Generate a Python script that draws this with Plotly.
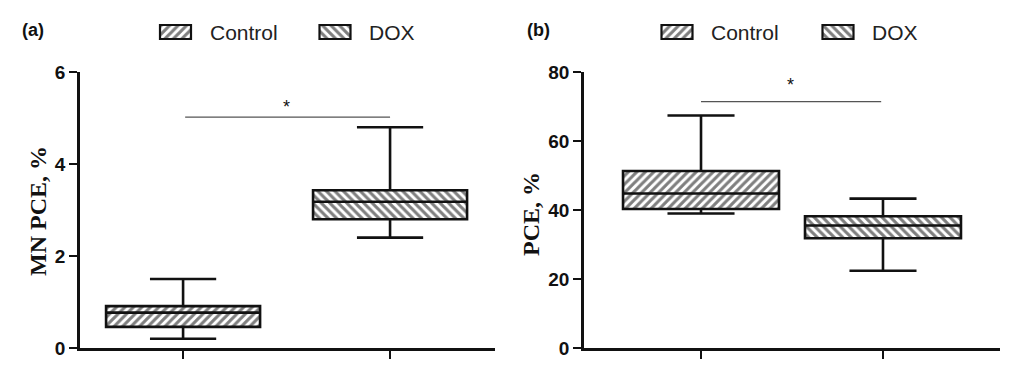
import plotly.graph_objects as go

# ---------------- data ----------------
groups = ["Control", "DOX"]
# Panel (a): MN PCE, %
a_lower = [0.2, 2.4]
a_q1 = [0.46, 2.8]
a_median = [0.77, 3.18]
a_q3 = [0.91, 3.43]
a_upper = [1.5, 4.8]
a_sig_y = 5.02
# Panel (b): PCE, %
b_lower = [39.0, 22.4]
b_q1 = [40.3, 31.8]
b_median = [44.8, 35.5]
b_q3 = [51.3, 38.2]
b_upper = [67.4, 43.3]
b_sig_y = 71.4

a_yticks = [0, 2, 4, 6]
b_yticks = [0, 20, 40, 60, 80]

# ---------------- styles ----------------
W, H = 1009, 378
BLACK = "#111111"
patterns = {"Control": "/", "DOX": "\\"}
PAT = dict(fgcolor="#000000", bgcolor="white", size=6, solidity=0.52)
TICKFONT = dict(family="Liberation Sans, Arial", size=19, color=BLACK, weight="bold")

fig = go.Figure()

panels = [
    dict(ax="", lower=a_lower, q1=a_q1, med=a_median, q3=a_q3, upper=a_upper,
         width=0.744, xrange=[-0.498, 1.507], yrange=[0, 6], ticks=a_yticks,
         xdom=[80 / W, 495 / W], sig=a_sig_y, sigx=[0.01, 1.0], star=(0.5, 5.24)),
    dict(ax="2", lower=b_lower, q1=b_q1, med=b_median, q3=b_q3, upper=b_upper,
         width=0.857, xrange=[-0.643, 1.643], yrange=[0, 80], ticks=b_yticks,
         xdom=[584 / W, 1000 / W], sig=b_sig_y, sigx=[0.0, 0.99], star=(0.49, 76.2)),
]

ydom = [(H - 348) / H, (H - 72) / H]

for p in panels:
    xa = "x" + p["ax"]
    ya = "y" + p["ax"]
    for i, g in enumerate(groups):
        # hatched fill of the box (from Q1 to Q3)
        fig.add_trace(go.Bar(
            x=[i], y=[p["q3"][i] - p["q1"][i]], base=[p["q1"][i]],
            width=p["width"], xaxis=xa, yaxis=ya, showlegend=False,
            marker=dict(color="white", line=dict(width=0),
                        pattern=dict(shape=patterns[g], **PAT)),
            hoverinfo="skip",
        ))
        # box outline, median, whiskers
        fig.add_trace(go.Box(
            x=[i], q1=[p["q1"][i]], median=[p["med"][i]], q3=[p["q3"][i]],
            lowerfence=[p["lower"][i]], upperfence=[p["upper"][i]],
            width=p["width"], whiskerwidth=0.43, xaxis=xa, yaxis=ya,
            fillcolor="rgba(0,0,0,0)", line=dict(color=BLACK, width=2.6),
            showlegend=False, name=g,
        ))
    # significance line and star
    fig.add_shape(type="line", xref=xa, yref=ya, x0=p["sigx"][0], x1=p["sigx"][1],
                  y0=p["sig"], y1=p["sig"], line=dict(color="#555555", width=1.3))
    fig.add_annotation(x=p["star"][0], y=p["star"][1], xref=xa, yref=ya, text="*",
                       showarrow=False, font=dict(family="Liberation Sans, Arial", size=18, color=BLACK))

    axis_common = dict(showline=True, linecolor=BLACK, linewidth=2.6, ticks="outside",
                       ticklen=8, tickwidth=2.2, tickcolor=BLACK, showgrid=False, zeroline=False,
                       automargin=False, fixedrange=True)
    fig.layout["xaxis" + p["ax"]] = dict(domain=p["xdom"], range=p["xrange"], tickvals=[0, 1],
                                         showticklabels=False, anchor=ya, **axis_common)
    fig.layout["yaxis" + p["ax"]] = dict(domain=ydom, range=p["yrange"], tickvals=p["ticks"],
                                         tickfont=TICKFONT, anchor=xa, **axis_common)

# ---------------- custom legends (hatched keys) ----------------
legend_keys = {"Control": [175.5, 677.0], "DOX": [335.0, 838.0]}
legend_text_x = {"Control": [208, 709], "DOX": [367, 870]}
for g in groups:
    fig.add_trace(go.Bar(
        x=legend_keys[g], y=[14, 14], base=[25, 25], width=31,
        xaxis="x3", yaxis="y3", showlegend=False, hoverinfo="skip",
        marker=dict(color="white", line=dict(color=BLACK, width=2.2),
                    pattern=dict(shape=patterns[g], **PAT)),
    ))
    for tx in legend_text_x[g]:
        fig.add_annotation(x=tx / W, y=1 - 32 / H, xref="paper", yref="paper", text=g,
                           xanchor="left", yanchor="middle", showarrow=False,
                           font=dict(family="Liberation Sans, Arial", size=21, color="#222222"))

fig.layout["xaxis3"] = dict(domain=[0, 1], range=[0, W], visible=False, fixedrange=True,
                            anchor="y3", automargin=False)
fig.layout["yaxis3"] = dict(domain=[0, 1], range=[H, 0], visible=False, fixedrange=True,
                            anchor="x3", automargin=False)

# panel labels and y-axis titles
for lbl, lx in [("(a)", 20), ("(b)", 525)]:
    fig.add_annotation(x=lx / W, y=1 - 30 / H, xref="paper", yref="paper", text=lbl,
                       xanchor="left", yanchor="middle", showarrow=False,
                       font=dict(family="Liberation Sans, Arial", size=18, color=BLACK, weight="bold"))
for title, tx, ty in [("MN PCE, %", 38, 211), ("PCE, %", 531, 214)]:
    fig.add_annotation(x=tx / W, y=1 - ty / H, xref="paper", yref="paper", text=title,
                       textangle=-90, xanchor="center", yanchor="middle", showarrow=False,
                       font=dict(family="Liberation Serif, Times New Roman", size=24,
                                 color=BLACK, weight="bold"))

fig.update_layout(
    width=W, height=H, margin=dict(l=0, r=0, t=0, b=0, autoexpand=False),
    paper_bgcolor="white", plot_bgcolor="rgba(0,0,0,0)",
    barmode="overlay", boxmode="overlay", showlegend=False,
)

fig.write_html(
    "out.html",
    config={"displayModeBar": False},
    post_script="document.body.style.margin='0';document.body.style.overflow='hidden';",
)
